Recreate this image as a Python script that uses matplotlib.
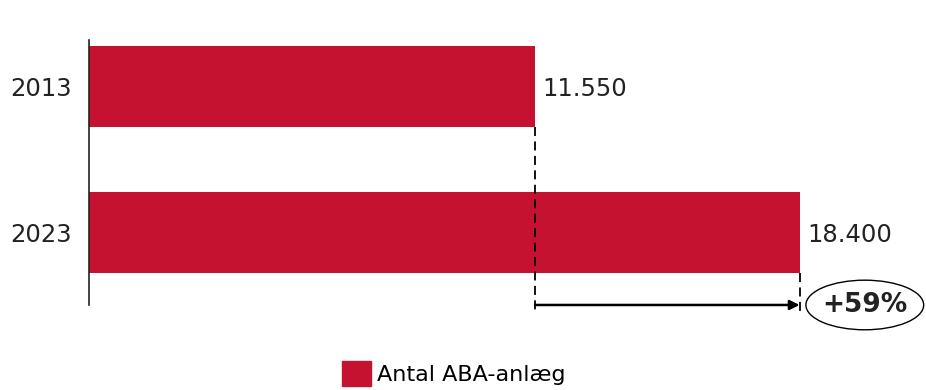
import matplotlib
matplotlib.use('Agg')
import matplotlib.pyplot as plt
from matplotlib.patches import Ellipse, Patch

years = ['2013', '2023']
values = [11550, 18400]
value_labels = ['11.550', '18.400']
change_label = '+59%'
legend_label = 'Antal ABA-anlæg'

RED = '#C41230'
plt.rcParams['font.family'] = 'DejaVu Sans'

fig = plt.figure(figsize=(9.26, 3.9), dpi=100)
ax = fig.add_axes([0.0961, 0.218, 0.9039, 0.679])

ypos = list(range(len(years)))
bar_h = 0.555
ax.barh(ypos, values, height=bar_h, color=RED, zorder=2)
ax.set_xlim(0, 21675)
ax.set_ylim(1.5, -0.315)

ax.set_yticks(ypos)
ax.set_yticklabels(years, fontsize=17.5, color='#222222')
ax.tick_params(axis='y', length=0, pad=12)
ax.set_xticks([])
for s in ['top', 'right', 'bottom']:
    ax.spines[s].set_visible(False)
ax.spines['left'].set_color('#222222')
ax.spines['left'].set_linewidth(1.2)

for y, v, lab in zip(ypos, values, value_labels):
    ax.text(v + 200, y + 0.02, lab, fontsize=17.5, color='#222222', va='center', ha='left')

# dashed guides (drawn over the bars) and arrow
y_arrow = 1.5
ax.vlines(values[0], ypos[0] + bar_h / 2, y_arrow + 0.05, linestyles=(0, (5, 3)),
          colors='black', lw=1.3, clip_on=False, zorder=6)
ax.vlines(values[1], ypos[1] + bar_h / 2, y_arrow + 0.04, linestyles=(0, (5, 3)),
          colors='black', lw=1.3, clip_on=False, zorder=6)
ax.annotate('', xy=(values[1], y_arrow), xytext=(values[0], y_arrow),
            arrowprops=dict(arrowstyle='-|>', color='black', lw=1.8, mutation_scale=14,
                            shrinkA=0, shrinkB=0),
            annotation_clip=False)

ex = values[1] + 1690
ax.add_patch(Ellipse((ex, y_arrow), width=3050, height=0.34, fill=False,
                     edgecolor='black', lw=1, clip_on=False))
ax.text(ex, y_arrow, change_label, fontsize=19, fontweight='bold', ha='center',
        va='center', color='#222222')

fig.legend(handles=[Patch(color=RED)], labels=[legend_label], loc='lower center',
           bbox_to_anchor=(0.49, -0.04), frameon=False, fontsize=16,
           handlelength=1.3, handleheight=1.3, handletextpad=0.3)

fig.savefig('out.png', dpi=100)
